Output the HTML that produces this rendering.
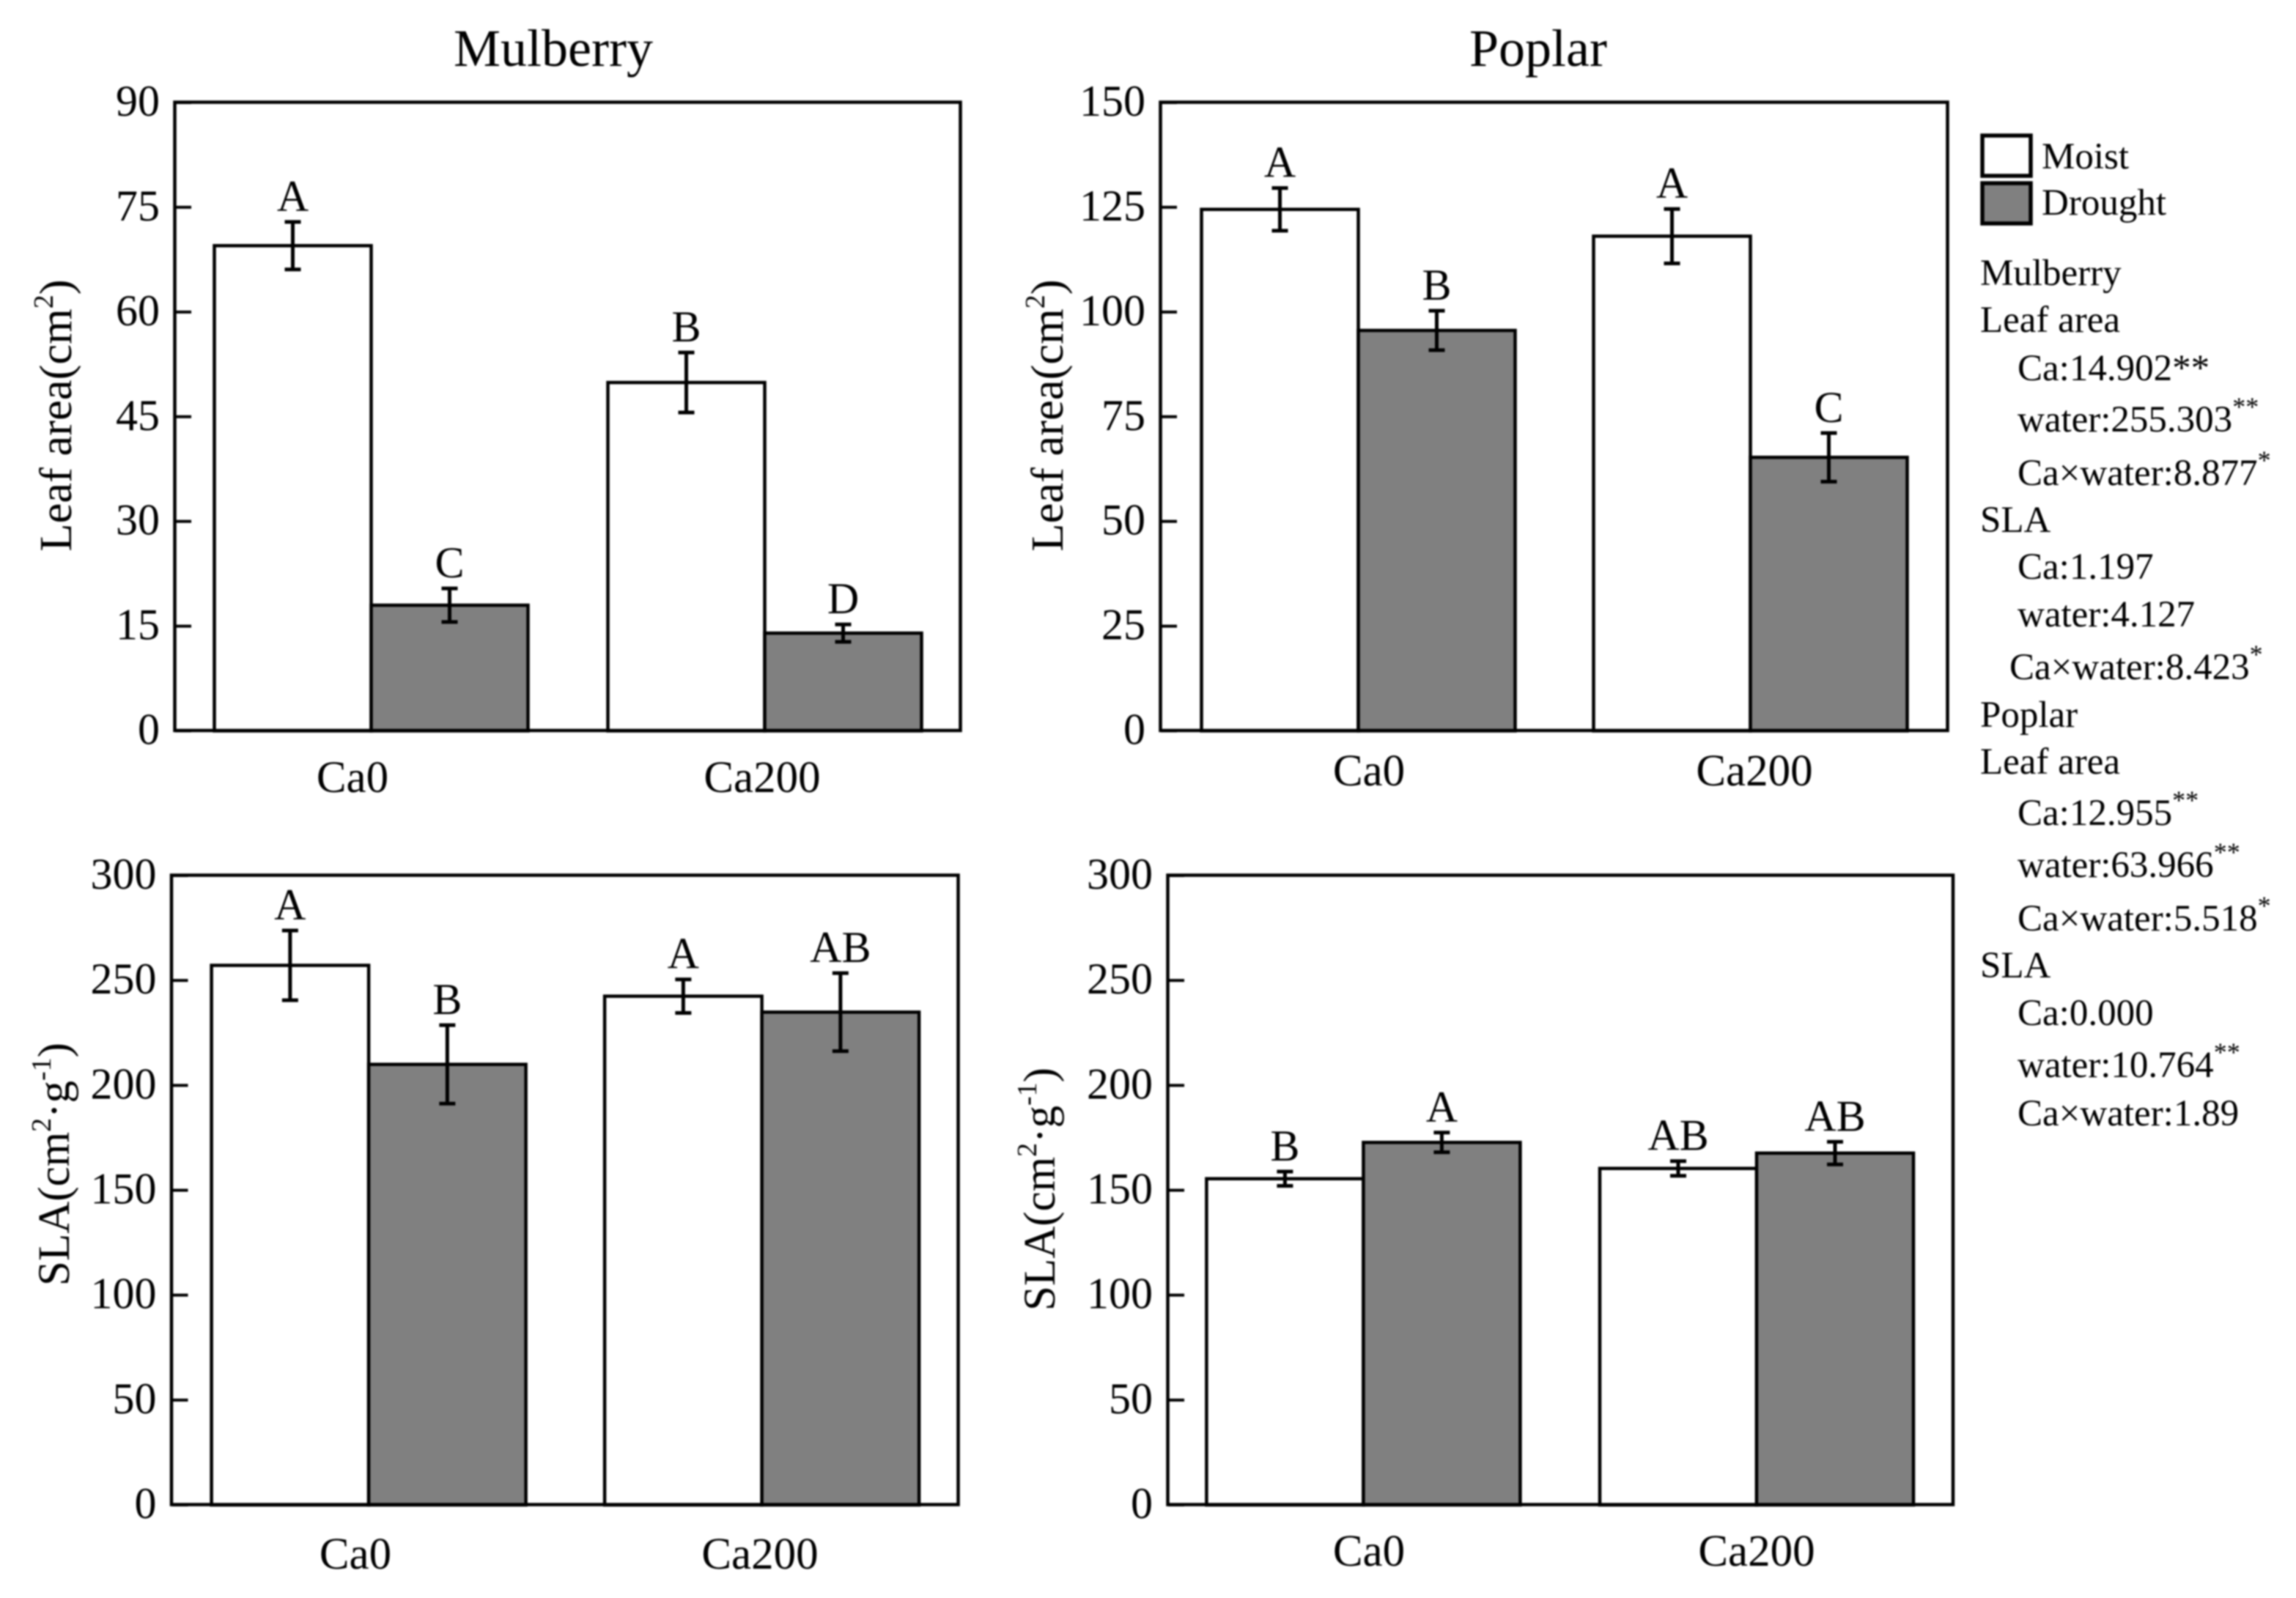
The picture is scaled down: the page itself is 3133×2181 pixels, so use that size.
<!DOCTYPE html>
<html lang="en">
<head>
<meta charset="utf-8">
<title>Mulberry and Poplar leaf area and SLA</title>
<style>
html,body{margin:0;padding:0;background:#fff;}
svg{display:block;filter:blur(1.1px);}
text{font-family:"Liberation Serif",serif;fill:#000;}
.side{font-size:51px;}
.sup{font-size:36px;}
</style>
</head>
<body>
<svg id="chart" xmlns="http://www.w3.org/2000/svg" width="3133" height="2181" viewBox="0 0 3133 2181">
  <rect x="0" y="0" width="3133" height="2181" fill="#fff"/>
  <g id="panels"></g>

  <text x="755" y="90" font-size="72" text-anchor="middle">Mulberry</text>
  <text x="2099" y="90" font-size="72" text-anchor="middle">Poplar</text>

  <text transform="translate(97,567) rotate(-90)" font-size="62.5" text-anchor="middle">Leaf area(cm<tspan font-size="38" dy="-25">2</tspan><tspan dy="25">)</tspan></text>
  <text transform="translate(1450,567) rotate(-90)" font-size="62.5" text-anchor="middle">Leaf area(cm<tspan font-size="38" dy="-25">2</tspan><tspan dy="25">)</tspan></text>
  <text transform="translate(94,1589) rotate(-90)" font-size="61" text-anchor="middle">SLA(cm<tspan font-size="38" dy="-25">2</tspan><tspan dy="25">·g</tspan><tspan font-size="38" dy="-25">-1</tspan><tspan dy="25">)</tspan></text>
  <text transform="translate(1439,1623) rotate(-90)" font-size="61" text-anchor="middle">SLA(cm<tspan font-size="38" dy="-25">2</tspan><tspan dy="25">·g</tspan><tspan font-size="38" dy="-25">-1</tspan><tspan dy="25">)</tspan></text>

  <g>
    <rect x="2705" y="185" width="66" height="55" fill="#fff" stroke="#000" stroke-width="5.5"/>
    <text class="side" x="2786" y="230">Moist</text>
    <rect x="2705" y="250" width="66" height="55" fill="#808080" stroke="#000" stroke-width="5.5"/>
    <text class="side" x="2786" y="293">Drought</text>
  </g>

  <g>
    <text class="side" x="2702" y="389">Mulberry</text>
    <text class="side" x="2702" y="453">Leaf area</text>
    <text class="side" x="2753" y="519">Ca:14.902**</text>
    <text class="side" x="2753" y="589">water:255.303<tspan class="sup" dy="-22">**</tspan></text>
    <text class="side" x="2753" y="662">Ca×water:8.877<tspan class="sup" dy="-22">*</tspan></text>
    <text class="side" x="2702" y="726">SLA</text>
    <text class="side" x="2753" y="790">Ca:1.197</text>
    <text class="side" x="2753" y="855">water:4.127</text>
    <text class="side" x="2742" y="927">Ca×water:8.423<tspan class="sup" dy="-22">*</tspan></text>
    <text class="side" x="2702" y="992">Poplar</text>
    <text class="side" x="2702" y="1056">Leaf area</text>
    <text class="side" x="2753" y="1126">Ca:12.955<tspan class="sup" dy="-22">**</tspan></text>
    <text class="side" x="2753" y="1197">water:63.966<tspan class="sup" dy="-22">**</tspan></text>
    <text class="side" x="2753" y="1270">Ca×water:5.518<tspan class="sup" dy="-22">*</tspan></text>
    <text class="side" x="2702" y="1334">SLA</text>
    <text class="side" x="2753" y="1399">Ca:0.000</text>
    <text class="side" x="2753" y="1470">water:10.764<tspan class="sup" dy="-22">**</tspan></text>
    <text class="side" x="2753" y="1536">Ca×water:1.89</text>
  </g>
</svg>
<script>
// Data: each array is ordered [Ca0, Ca200]
const categories = ['Ca0', 'Ca200'];

const mulberryLeafTicks = [0, 15, 30, 45, 60, 75, 90];
const mulberryLeafMoist = [69.5, 49.9];
const mulberryLeafDrought = [18, 14];
const mulberryLeafMoistErr = [3.4, 4.3];
const mulberryLeafDroughtErr = [2.4, 1.25];
const mulberryLeafMoistLetters = ['A', 'B'];
const mulberryLeafDroughtLetters = ['C', 'D'];

const poplarLeafTicks = [0, 25, 50, 75, 100, 125, 150];
const poplarLeafMoist = [124.5, 118.1];
const poplarLeafDrought = [95.6, 65.3];
const poplarLeafMoistErr = [5.1, 6.5];
const poplarLeafDroughtErr = [4.7, 5.8];
const poplarLeafMoistLetters = ['A', 'A'];
const poplarLeafDroughtLetters = ['B', 'C'];

const mulberrySlaTicks = [0, 50, 100, 150, 200, 250, 300];
const mulberrySlaMoist = [257.2, 242.5];
const mulberrySlaDrought = [210, 234.9];
const mulberrySlaMoistErr = [16.6, 8];
const mulberrySlaDroughtErr = [18.7, 18.6];
const mulberrySlaMoistLetters = ['A', 'A'];
const mulberrySlaDroughtLetters = ['B', 'AB'];

const poplarSlaTicks = [0, 50, 100, 150, 200, 250, 300];
const poplarSlaMoist = [155.5, 160.4];
const poplarSlaDrought = [172.8, 167.7];
const poplarSlaMoistErr = [3.4, 3.5];
const poplarSlaDroughtErr = [4.7, 5.4];
const poplarSlaMoistLetters = ['B', 'AB'];
const poplarSlaDroughtLetters = ['A', 'AB'];

const NS = 'http://www.w3.org/2000/svg';
const root = document.getElementById('panels');

function make(parent, tag, attrs, text) {
  const el = document.createElementNS(NS, tag);
  for (const k in attrs) el.setAttribute(k, attrs[k]);
  if (text !== undefined) el.textContent = text;
  parent.appendChild(el);
  return el;
}

function drawPanel(p) {
  const yScale = v => p.bottom - (v / p.ticks[p.ticks.length - 1]) * (p.bottom - p.top);
  const barLeft = (group, series) => p.start + group * p.step + series * p.barW;

  const g = make(root, 'g', {});
  
  

  p.ticks.forEach(t => {
    const tick = make(g, 'line', { x1: p.left, x2: p.left + 22, y1: yScale(t), y2: yScale(t), stroke: '#000', 'stroke-width': 4 });
    
    
    const label = make(g, 'text', { x: p.left - 21, y: yScale(t) + 18, 'font-size': 60, 'text-anchor': 'end' }, String(t));
    
    
  });

  const series = [
    { key: 'moist', vals: p.moist, errs: p.moistErr, letters: p.moistLetters, fill: '#fff' },
    { key: 'drought', vals: p.drought, errs: p.droughtErr, letters: p.droughtLetters, fill: '#808080' }
  ];

  series.forEach((s, si) => {
    s.vals.forEach((v, gi) => {
      const bar = make(g, 'rect', {
        x: barLeft(gi, si), y: yScale(v), width: p.barW, height: p.bottom - yScale(v),
        fill: s.fill, stroke: '#000', 'stroke-width': 4.5
      });
      
      
    });
  });

  series.forEach((s, si) => {
    s.vals.forEach((v, gi) => {
      const cx = barLeft(gi, si) + p.barW / 2;
      const hi = yScale(v + s.errs[gi]);
      const lo = yScale(v - s.errs[gi]);
      const err = make(g, 'path', {
        d: 'M' + (cx - 11) + ' ' + hi + 'H' + (cx + 11) + 'M' + cx + ' ' + hi + 'V' + lo + 'M' + (cx - 11) + ' ' + lo + 'H' + (cx + 11),
        fill: 'none', stroke: '#000', 'stroke-width': 5
      });
      
      
      const letter = make(g, 'text', { x: cx, y: hi - 15, 'font-size': 60, 'text-anchor': 'middle' }, s.letters[gi]);
      
      
    });
  });

  const frame = make(g, 'rect', { x: p.left - 0.5, y: p.top - 0.5, width: p.right - p.left, height: p.bottom - p.top, fill: 'none', stroke: '#000', 'stroke-width': 4.5 });
  
  

  categories.forEach((c, i) => {
    const cat = make(g, 'text', { x: p.catX[i], y: p.catY, 'font-size': 61, 'text-anchor': 'middle' }, c);
    
    
  });
}

drawPanel({
  name: 'mulberry-leaf-area', left: 239, right: 1311, top: 140, bottom: 997.5,
  start: 292.5, step: 537, barW: 214, catX: [481, 1040], catY: 1081,
  ticks: mulberryLeafTicks, moist: mulberryLeafMoist, drought: mulberryLeafDrought,
  moistErr: mulberryLeafMoistErr, droughtErr: mulberryLeafDroughtErr,
  moistLetters: mulberryLeafMoistLetters, droughtLetters: mulberryLeafDroughtLetters
});
drawPanel({
  name: 'poplar-leaf-area', left: 1584, right: 2658, top: 140, bottom: 997.5,
  start: 1639.5, step: 535, barW: 214, catX: [1868, 2394], catY: 1072,
  ticks: poplarLeafTicks, moist: poplarLeafMoist, drought: poplarLeafDrought,
  moistErr: poplarLeafMoistErr, droughtErr: poplarLeafDroughtErr,
  moistLetters: poplarLeafMoistLetters, droughtLetters: poplarLeafDroughtLetters
});
drawPanel({
  name: 'mulberry-sla', left: 234.5, right: 1308, top: 1195, bottom: 2054,
  start: 288.6, step: 536.5, barW: 214.5, catX: [485, 1037], catY: 2141,
  ticks: mulberrySlaTicks, moist: mulberrySlaMoist, drought: mulberrySlaDrought,
  moistErr: mulberrySlaMoistErr, droughtErr: mulberrySlaDroughtErr,
  moistLetters: mulberrySlaMoistLetters, droughtLetters: mulberrySlaDroughtLetters
});
drawPanel({
  name: 'poplar-sla', left: 1594, right: 2665.5, top: 1195, bottom: 2054,
  start: 1646.4, step: 536.6, barW: 214, catX: [1868, 2397], catY: 2137,
  ticks: poplarSlaTicks, moist: poplarSlaMoist, drought: poplarSlaDrought,
  moistErr: poplarSlaMoistErr, droughtErr: poplarSlaDroughtErr,
  moistLetters: poplarSlaMoistLetters, droughtLetters: poplarSlaDroughtLetters
});
</script>
</body>
</html>
